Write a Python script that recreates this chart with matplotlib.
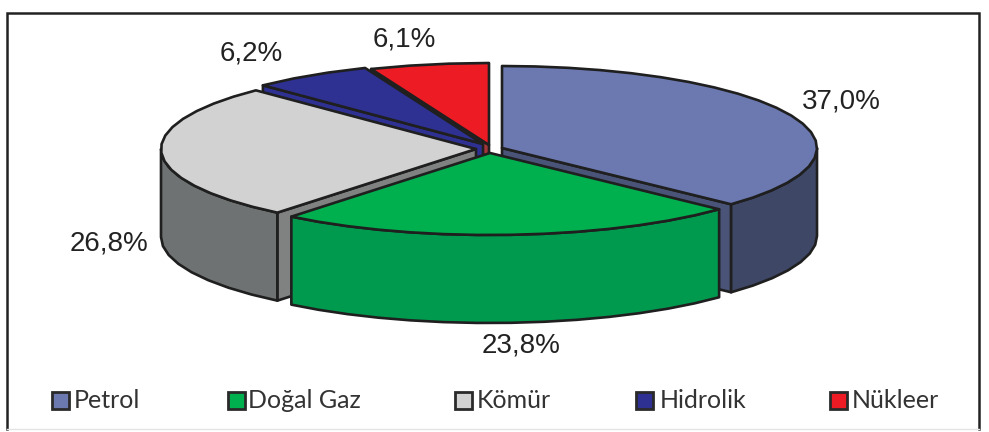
import matplotlib
matplotlib.use("Agg")
import matplotlib.pyplot as plt
from matplotlib.patches import Polygon, Rectangle
import numpy as np

categories = ["Petrol", "Doğal Gaz", "Kömür", "Hidrolik", "Nükleer"]
values = [37.0, 23.8, 26.8, 6.2, 6.1]
value_labels = ["37,0%", "23,8%", "26,8%", "6,2%", "6,1%"]

# look of each slice
top_colors = ["#6b79b0", "#00b04f", "#d2d2d2", "#2e3192", "#ed1c24"]
rim_colors = ["#3e4766", "#009a4e", "#6e7272", "#2a2e80", "#a32a30"]
face_colors = ["#4a5478", "#009a4e", "#808181", "#2e3192", "#a5353a"]
centers = [(502, 148), (490, 153), (476, 149), (483, 144), (489, 145)]
draw_order = [4, 3, 0, 2, 1]

label_pos = [(841, 102), (521, 346), (109, 244), (251, 53), (404, 40)]
swatch_x = [52, 228, 455, 636, 830]
legend_text_x = [74, 248, 477, 660, 852]

RX, RY, DEPTH = 315, 82, 88
EDGE = "#1f1f1f"

fig = plt.figure(figsize=(9.89, 4.32), dpi=100)
ax = fig.add_axes([0, 0, 1, 1])
ax.set_xlim(0, 989)
ax.set_ylim(432, 0)
ax.axis("off")


def rim(center, t0, t1, drop=0):
    # faceted like the original, about 6 degrees a step
    n = max(int(abs(t1 - t0) / 6), 1)
    t = np.radians(np.linspace(t0, t1, n + 1))
    return np.column_stack(
        [center[0] + RX * np.sin(t), center[1] - RY * np.cos(t) + drop]
    )


def add(points, color, z):
    ax.add_patch(Polygon(points, closed=True, facecolor=color, edgecolor=EDGE,
                         linewidth=1.9, joinstyle="round", zorder=z))


fractions = np.array(values) / sum(values)
ends = np.cumsum(fractions) * 360
starts = np.concatenate([[0], ends[:-1]])

z = 2
for i in draw_order:
    c, t0, t1 = centers[i], starts[i], ends[i]

    # flat side of the slice, only when it looks towards the viewer
    edge_t = None
    if 180 < t0 < 360:
        edge_t = t0
    elif 0 < t1 < 180:
        edge_t = t1
    if edge_t is not None:
        p = rim(c, edge_t, edge_t)[0]
        add([c, p, (p[0], p[1] + DEPTH), (c[0], c[1] + DEPTH)], face_colors[i], z)
        z += 1

    # outer wall, front half of the ellipse
    a, b = max(t0, 90), min(t1, 270)
    if a < b:
        up = rim(c, a, b)
        down = rim(c, a, b, DEPTH)[::-1]
        add(np.vstack([up, down]), rim_colors[i], z)
        z += 1

    add(np.vstack([[c], rim(c, t0, t1)]), top_colors[i], z)
    z += 1

for lab, (x, y) in zip(value_labels, label_pos):
    ax.text(x, y, lab, ha="center", va="center", fontsize=20,
            family="Liberation Sans", color="#222222", zorder=30)

for i, name in enumerate(categories):
    ax.add_patch(Rectangle((swatch_x[i], 392), 17, 17, facecolor=top_colors[i],
                           edgecolor="#2a2a2a", linewidth=2, zorder=30))
    ax.text(legend_text_x[i], 400, name, ha="left", va="center", fontsize=18,
            family="Lato", color="#333333", zorder=30)

# outer frame
ax.plot([7, 7, 979, 979], [429, 13, 13, 429], color="#222222", lw=1.8,
        solid_joinstyle="miter", zorder=40)
ax.plot([7, 979], [429, 429], color="#e4e4e4", lw=1, zorder=40)

fig.savefig("out.png", dpi=100, facecolor="white")
